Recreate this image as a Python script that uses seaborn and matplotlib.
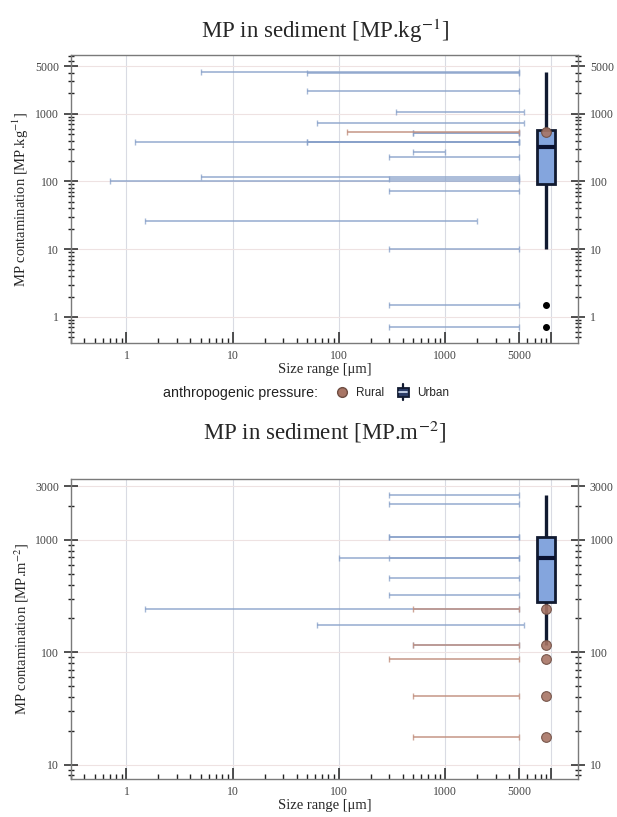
import matplotlib
matplotlib.use("Agg")
import matplotlib.pyplot as plt
import matplotlib.ticker as mtick
from matplotlib.lines import Line2D
from matplotlib.patches import Rectangle
from matplotlib.legend_handler import HandlerBase
import seaborn as sns
import pandas as pd
import numpy as np

sns.set_theme(style="white")
plt.rcParams['font.family'] = ['Liberation Serif', 'DejaVu Serif']
plt.rcParams['mathtext.fontset'] = 'stix'

# ---------------------------------------------------------------
# MP.kg-1 : contamination value, size range min / max (um)
kg_urban_val = [4100, 4000, 2150, 1070, 735, 520, 520, 385, 385, 385,
                270, 230, 117, 110, 101, 72, 26, 10, 1.5, 0.7]
kg_urban_min = [5, 50, 50, 350, 62, 500, 500, 1.2, 50, 50,
                500, 300, 5, 300, 0.7, 300, 1.5, 300, 300, 300]
kg_urban_max = [5000, 5000, 5000, 5600, 5600, 5000, 5000, 5000, 5000, 5000,
                1000, 5000, 5000, 5000, 5000, 5000, 2000, 5000, 5000, 5000]
kg_rural_val = [540]
kg_rural_min = [120]
kg_rural_max = [5000]

# MP.m-2
m2_urban_val = [2490, 2070, 1070, 1070, 683, 683, 460, 320, 241, 173, 116]
m2_urban_min = [300, 300, 300, 300, 100, 300, 300, 300, 1.5, 62, 500]
m2_urban_max = [5000, 5000, 5000, 5000, 5000, 5000, 5000, 5000, 5000, 5600, 5000]
m2_rural_val = [241, 116, 87, 41, 17.5]
m2_rural_min = [500, 500, 300, 500, 500]
m2_rural_max = [5000, 5000, 5000, 5000, 5000]

x_ticks = [1, 10, 100, 1000, 5000, 10000]
x_ticklabels = ["1", "10", "100", "1000", "5000", ""]
kg_yticks = [1, 10, 100, 1000, 5000]
m2_yticks = [10, 100, 1000, 3000]

BOX_X = 9000
C_URBAN = "#87a0c9"
C_RURAL = "#c2907f"
C_BOX = "#84a5dd"
C_EDGE = "#111a30"
C_PT = "#a87565"
C_TXT = "#444444"
SANS = ["Liberation Sans", "DejaVu Sans"]


class HandlerBox(HandlerBase):
    # petite icone de boxplot pour la legende
    def create_artists(self, legend, orig_handle, xdescent, ydescent,
                       width, height, fontsize, trans):
        cx = width / 2 - xdescent
        w = height * 0.95
        y0 = -ydescent
        rect = Rectangle((cx - w / 2, y0 + height * 0.1), w, height * 0.8,
                         facecolor="#2b3c66", edgecolor=C_EDGE, lw=1.3,
                         transform=trans)
        med = Line2D([cx - w / 2 + 1, cx + w / 2 - 1], [y0 + height * 0.5] * 2,
                     color="#c8d4ea", lw=1.3, transform=trans)
        wt = Line2D([cx, cx], [y0 + height * 0.9, y0 + height * 1.2],
                    color=C_EDGE, lw=1.6, transform=trans)
        wb = Line2D([cx, cx], [y0 - height * 0.2, y0 + height * 0.1],
                    color=C_EDGE, lw=1.6, transform=trans)
        return [rect, med, wt, wb]


def draw_panel(ax, u_val, u_min, u_max, r_val, r_min, r_max,
               ylim, yticks, unit, tpad):
    ax.set_xscale("log")
    ax.set_yscale("log")
    ax.grid(True, which="major", axis="x", color="#d9dbe3", lw=0.8)
    ax.grid(True, which="major", axis="y", color="#eee2e2", lw=0.8)
    ax.set_axisbelow(True)

    for v, lo, hi in zip(u_val, u_min, u_max):
        ax.errorbar(lo, v, xerr=[[0], [hi - lo]], fmt="none", ecolor=C_URBAN,
                    elinewidth=1.3, capsize=2.2, capthick=1, alpha=0.75)
    for v, lo, hi in zip(r_val, r_min, r_max):
        ax.errorbar(lo, v, xerr=[[0], [hi - lo]], fmt="none", ecolor=C_RURAL,
                    elinewidth=1.3, capsize=2.2, capthick=1, alpha=0.8)

    df_u = pd.DataFrame({"pos": BOX_X, "val": u_val})
    sns.boxplot(data=df_u, x="pos", y="val", native_scale=True,
                log_scale=(True, True), width=0.17, ax=ax, color=C_BOX,
                saturation=1, linecolor=C_EDGE, linewidth=2, showcaps=False,
                whiskerprops=dict(linewidth=2.4),
                flierprops=dict(marker="o", markerfacecolor="black",
                                markeredgecolor="black", markersize=4),
                medianprops=dict(color="#0a1230", linewidth=3))
    df_r = pd.DataFrame({"pos": BOX_X, "val": r_val})
    sns.stripplot(data=df_r, x="pos", y="val", native_scale=True, jitter=False,
                  color=C_PT, size=7, edgecolor="#6e4d42", linewidth=0.8,
                  alpha=0.9, ax=ax, zorder=5)

    ax.set_xlim(0.3, 18000)
    ax.set_ylim(*ylim)
    ax.set_xticks(x_ticks)
    ax.set_xticklabels(x_ticklabels)
    ax.xaxis.set_minor_locator(mtick.LogLocator(base=10, subs=np.arange(2, 10), numticks=20))
    ax.xaxis.set_minor_formatter(mtick.NullFormatter())
    ax.set_yticks(yticks)
    ax.set_yticklabels([str(t) for t in yticks])
    ax.yaxis.set_minor_locator(mtick.LogLocator(base=10, subs=np.arange(2, 10), numticks=20))
    ax.yaxis.set_minor_formatter(mtick.NullFormatter())

    ax.tick_params(axis="x", which="major", direction="in", length=8, width=1.1,
                   color="#222222", labelsize=8.5, labelcolor=C_TXT, bottom=True, pad=5)
    ax.tick_params(axis="x", which="minor", direction="in", length=3.5, width=1,
                   color="#222222", bottom=True)
    ax.tick_params(axis="y", which="major", direction="inout", length=10, width=1.1,
                   color="#222222", labelsize=8.5, labelcolor=C_TXT,
                   left=True, right=True, labelright=True)
    ax.tick_params(axis="y", which="minor", direction="inout", length=4, width=1,
                   color="#222222", left=True, right=True)

    for s in ax.spines.values():
        s.set_color("#7a7a7a")
        s.set_linewidth(1)

    ax.set_title("MP in sediment [MP.%s]" % unit, fontsize=16.5, pad=tpad)
    ax.set_xlabel("Size range [μm]", fontsize=10.5, labelpad=1)
    ax.set_ylabel("MP contamination [MP.%s]" % unit, fontsize=10.5, labelpad=3)


fig = plt.figure(figsize=(6.17, 8.17), dpi=100)
ax1 = fig.add_axes([0.115, 0.580, 0.822, 0.3525])
ax2 = fig.add_axes([0.115, 0.047, 0.822, 0.367])

draw_panel(ax1, kg_urban_val, kg_urban_min, kg_urban_max,
           kg_rural_val, kg_rural_min, kg_rural_max,
           (0.41, 7300), kg_yticks, r"kg$^{-1}$", 12)
draw_panel(ax2, m2_urban_val, m2_urban_min, m2_urban_max,
           m2_rural_val, m2_rural_min, m2_rural_max,
           (7.5, 3500), m2_yticks, r"m$^{-2}$", 28)

# legende commune
fig.text(318 / 617, 1 - 393 / 817, "anthropogenic pressure:", ha="right", va="center",
         fontsize=10.3, family=SANS, color="#222222")
h_rural = Line2D([], [], linestyle="none", marker="o", markersize=7,
                 markerfacecolor=C_PT, markeredgecolor="#6e4d42")
h_urban = Rectangle((0, 0), 1, 1)
fig.legend([h_rural, h_urban], ["Rural", "Urban"], loc="center left",
           bbox_to_anchor=(324 / 617, 1 - 393 / 817), ncol=2, frameon=False,
           handler_map={Rectangle: HandlerBox()}, handlelength=1.3,
           handleheight=1.1, handletextpad=0.5, columnspacing=1.0,
           prop={"family": SANS, "size": 8.5})

fig.savefig("out.png", dpi=100)
